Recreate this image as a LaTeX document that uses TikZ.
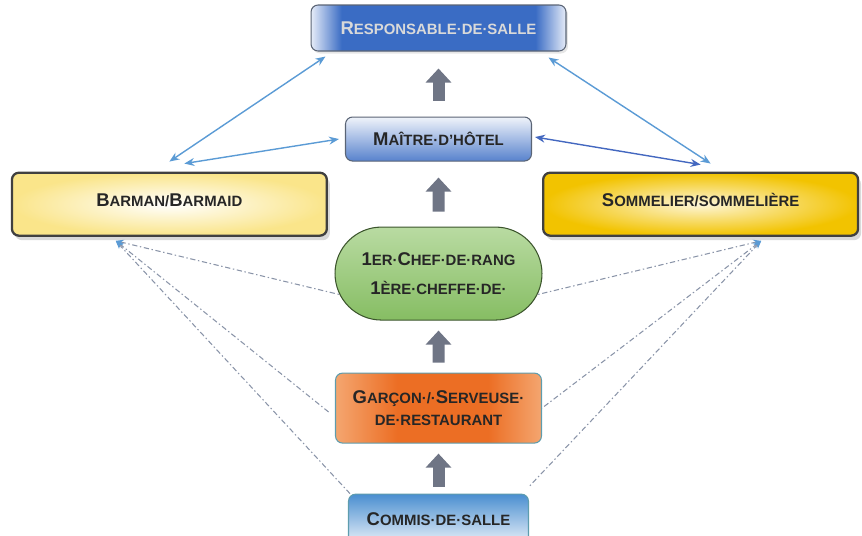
\documentclass[tikz,border=0pt]{standalone}
\usepackage{fontspec}
\setmainfont{Liberation Sans}
\usetikzlibrary{arrows.meta, positioning, shapes.misc, shadows}
\definecolor{bleutrait}{HTML}{5B9BD5}
\definecolor{bleufonce}{HTML}{4468C0}
\definecolor{bleuresp}{HTML}{3A6CC4}
\definecolor{bleuclair}{HTML}{E6ECF8}
\definecolor{bleucommis}{HTML}{4A8ED0}
\definecolor{jaunepale}{HTML}{FAE58A}
\definecolor{jauneor}{HTML}{F2C300}
\definecolor{vertchef}{HTML}{86BD63}
\definecolor{vertclair}{HTML}{B9DBA2}
\definecolor{orangeserv}{HTML}{EC6E24}
\definecolor{orangeclair}{HTML}{F4A670}
\definecolor{grisfleche}{HTML}{6F7585}
\definecolor{grispoint}{HTML}{8A94A8}
\definecolor{bordgris}{HTML}{5A6475}
\definecolor{bordteal}{HTML}{5E9DAE}
\pgfdeclarehorizontalshading{bandeau}{100bp}{color(0bp)=(bleuclair); color(25bp)=(bleuclair);
  color(31bp)=(bleuresp); color(69bp)=(bleuresp); color(75bp)=(bleuclair); color(100bp)=(bleuclair)}
\pgfdeclarehorizontalshading{braise}{100bp}{color(0bp)=(orangeclair); color(25bp)=(orangeclair);
  color(40bp)=(orangeserv); color(62bp)=(orangeserv); color(75bp)=(orangeclair); color(100bp)=(orangeclair)}
\newcommand{\petcap}[1]{{\fontsize{8.5}{10}\selectfont #1}}
\tikzset{
  poste/.style={rectangle, rounded corners=4pt, draw=bordgris, line width=0.6pt,
    font=\fontsize{10.5}{12}\selectfont\bfseries, text=black!85, align=center, inner sep=1mm},
  postejaune/.style={poste, draw=black!75, line width=1.3pt,
    drop shadow={opacity=0.3, shadow xshift=0.6mm, shadow yshift=-0.9mm}},
  fleche/.style={{Stealth[length=2mm, width=1.6mm]}-{Stealth[length=2mm, width=1.6mm]},
    line width=0.8pt, color=bleutrait},
  grosfleche/.style={-{Triangle[length=2.8mm, width=5mm]}, line width=2.4mm, color=grisfleche},
  pointille/.style={{Stealth[length=1.6mm, color=bleutrait]}-, line width=0.6pt, color=grispoint,
    dash pattern=on 3pt off 1.5pt on 0.8pt off 1.5pt},
}
\begin{document}
\begin{tikzpicture}[x=0.02cm, y=-0.02cm]
  \useasboundingbox (0,0) rectangle (862,535);
  % colonne centrale
  \node[poste, minimum width=51mm, minimum height=9.2mm, shading=bandeau, text=white!70!gray,
    drop shadow={opacity=0.2, shadow xshift=0.4mm, shadow yshift=-0.5mm}] (resp) at (438.5,28)
    {R\petcap{ESPONSABLE·DE·SALLE}};
  \node[poste, below=13mm of resp, minimum width=37.2mm, minimum height=8.8mm,
    top color=white!92!bleuresp, bottom color=bleuresp!85] (maitre) {M\petcap{AÎTRE·D’HÔTEL}};
  \node[poste, rounded rectangle, sharp corners, below=13mm of maitre, minimum width=43.4mm,
    minimum height=18.6mm, draw=black!55!vertchef, top color=vertclair, bottom color=vertchef] (chef)
    {1\petcap{ER·}C\petcap{HEF·DE·RANG}\\[5pt]1\petcap{ÈRE·CHEFFE·DE·}};
  \node[poste, below=10.4mm of chef, minimum width=41.2mm, minimum height=14mm, draw=bordteal,
    shading=braise] (garcon)
    {G\petcap{ARÇON·/·}S\petcap{ERVEUSE·}\\\petcap{DE·RESTAURANT}};
  \node[poste, below=10mm of garcon, minimum width=36mm, minimum height=10mm, draw=bordteal,
    top color=bleucommis, bottom color=white!88!bleucommis] (commis) {C\petcap{OMMIS·DE·SALLE}};
  % postes lateraux
  \node[postejaune, below left=2mm and 3.4mm of maitre.south west, minimum width=63mm,
    minimum height=12.6mm, inner color=white, outer color=jaunepale] (barman)
    {\raisebox{1.8mm}{B\petcap{ARMAN/}B\petcap{ARMAID}}};
  \node[postejaune, below right=2mm and 2mm of maitre.south east, minimum width=63mm,
    minimum height=12.6mm, inner color=white!85!jauneor, outer color=jauneor] (somm)
    {\raisebox{1.8mm}{S\petcap{OMMELIER/SOMMELIÈRE}}};

  \draw[grosfleche, shorten <=3.2mm, shorten >=3.4mm] (maitre) -- (resp);
  \draw[grosfleche, shorten <=3mm, shorten >=3.2mm] (chef) -- (maitre);
  \draw[grosfleche, shorten <=2mm, shorten >=2mm] (garcon) -- (chef);
  \draw[grosfleche, shorten <=1.4mm, shorten >=2mm] (commis) -- (garcon);

  \draw[fleche] ([shift={(3mm,-1mm)}]resp.south west) -- ([yshift=2mm]barman.north);
  \draw[fleche] ([xshift=-1.2mm]maitre.west) -- ([shift={(3mm,1.6mm)}]barman.north);
  \draw[fleche] ([shift={(-3.6mm,-1.2mm)}]resp.south east) -- ([shift={(2mm,1.6mm)}]somm.north);
  \draw[fleche, color=bleufonce] ([shift={(0.6mm,0.4mm)}]maitre.east) -- ([yshift=1.4mm]somm.north);

  \coordinate (pbar) at ([shift={(21mm,-0.8mm)}]barman.south west);
  \coordinate (psom) at ([shift={(-19.6mm,-0.8mm)}]somm.south east);
  \draw[pointille] (pbar) -- ([shift={(1mm,-4.2mm)}]chef.west);
  \draw[pointille] (pbar) -- ([shift={(-1mm,-1mm)}]garcon.west);
  \draw[pointille] (pbar) -- ([xshift=0.4mm]commis.north west);
  \draw[pointille] (psom) -- ([shift={(-1mm,-4.2mm)}]chef.east);
  \draw[pointille] (psom) -- (garcon.east);
  \draw[pointille] (psom) -- ([yshift=1.4mm]commis.north east);
\end{tikzpicture}
\end{document}
